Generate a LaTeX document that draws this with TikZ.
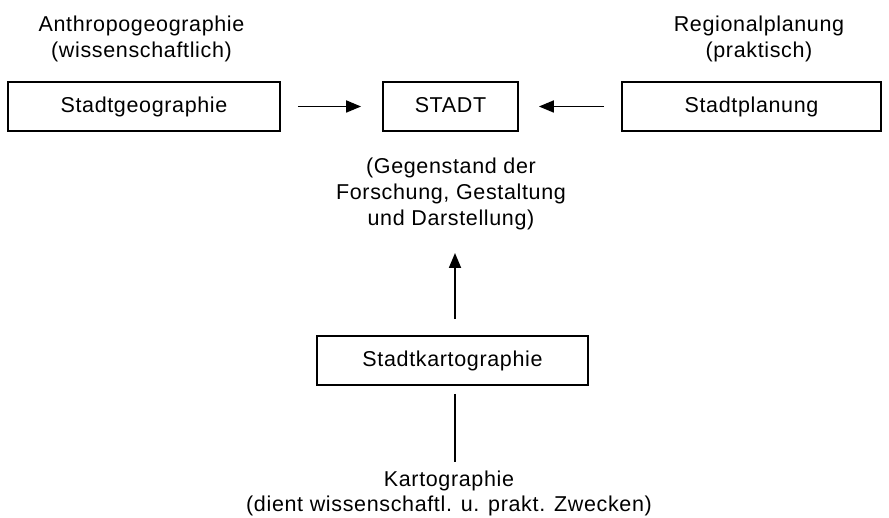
\documentclass[tikz,border=0pt]{standalone}
\usepackage{fontspec}
\setmainfont{Liberation Sans}[LetterSpace=3]
\usetikzlibrary{arrows.meta}
\tikzset{
  box/.style={draw, line width=1.8pt, minimum height=49pt, inner sep=0pt,
    text height=15.4pt, text depth=3pt, font=\fontsize{21.5}{26}\selectfont},
  lbl/.style={align=center, inner sep=0pt, font=\fontsize{21.5}{26}\selectfont},
  arr/.style={line width=1.8pt, -{Triangle[length=15pt,width=12pt]}},
  ln/.style={line width=1.8pt}
}
\begin{document}
\begin{tikzpicture}[x=1pt,y=-1pt]
\useasboundingbox (0,0) rectangle (889,518);
\node[box, minimum width=272pt] (geo) at (144,106.5) {Stadtgeographie};
\node[box, minimum width=135pt] (stadt) at (450.5,106.5) {STADT};
\node[box, minimum width=259pt] (plan) at (751.5,106.5) {Stadtplanung};
\node[box, minimum width=271pt] (kart) at (452.5,360.5) {Stadtkartographie};
\node[lbl] (anth) at (141.5,39) {Anthropogeographie\\(wissenschaftlich)};
\node[lbl] (reg) at (759,39) {Regionalplanung\\(praktisch)};
\node[lbl] (gegen) at (451,193.5) {(Gegenstand der\\Forschung, Gestaltung\\und Darstellung)};
\node[lbl, font=\fontsize{21.5}{25.5}\selectfont] (karto) at (449,493.5) {Kartographie\\(dient wissenschaftl. u. prakt. Zwecken)};
\draw[arr, shorten <=17pt, shorten >=21pt] (geo.east) -- (stadt.west);
\draw[arr, shorten <=17pt, shorten >=20pt] (plan.west) -- (stadt.east);
\draw[arr] ([xshift=2.5pt,yshift=16pt]kart.north) -- ([xshift=2.5pt]kart.north |- 0,253);
\draw[ln] ([xshift=2.5pt,yshift=-8pt]kart.south) -- ([xshift=2.5pt]kart.south |- 0,462);
\end{tikzpicture}
\end{document}
